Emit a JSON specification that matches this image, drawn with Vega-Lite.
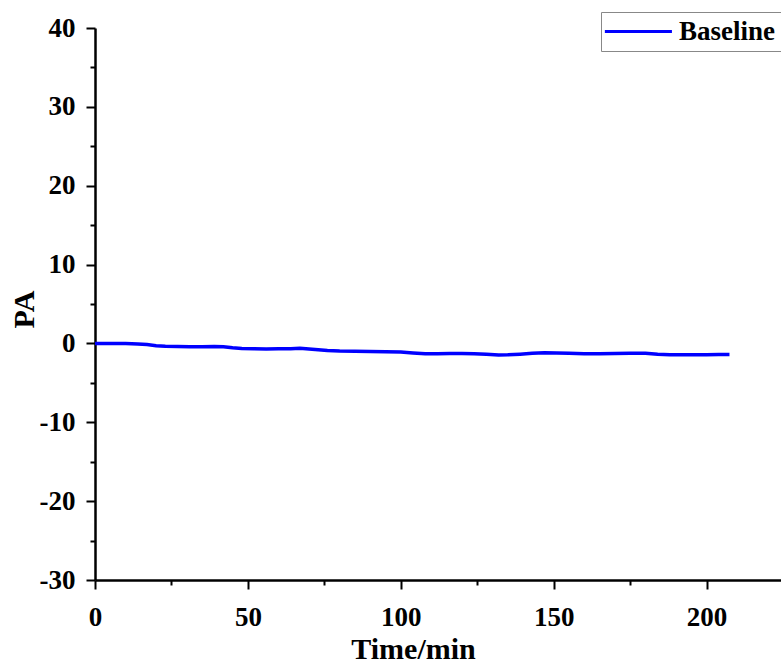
{
  "$schema": "https://vega.github.io/schema/vega-lite/v6.json",
  "autosize": {"type": "none"},
  "padding": {"left": 95, "top": 28, "right": 0, "bottom": 84},
  "width": 688,
  "height": 552,
  "background": "white",
  "data": {"values": [
    {"t": 0, "pa": 0, "series": "Baseline"},
    {"t": 5, "pa": 0.0, "series": "Baseline"},
    {"t": 10, "pa": -0.02, "series": "Baseline"},
    {"t": 14, "pa": -0.06, "series": "Baseline"},
    {"t": 17, "pa": -0.15, "series": "Baseline"},
    {"t": 20, "pa": -0.28, "series": "Baseline"},
    {"t": 23, "pa": -0.36, "series": "Baseline"},
    {"t": 27, "pa": -0.40, "series": "Baseline"},
    {"t": 31, "pa": -0.42, "series": "Baseline"},
    {"t": 35, "pa": -0.41, "series": "Baseline"},
    {"t": 39, "pa": -0.40, "series": "Baseline"},
    {"t": 42, "pa": -0.42, "series": "Baseline"},
    {"t": 45, "pa": -0.56, "series": "Baseline"},
    {"t": 48, "pa": -0.64, "series": "Baseline"},
    {"t": 52, "pa": -0.68, "series": "Baseline"},
    {"t": 56, "pa": -0.70, "series": "Baseline"},
    {"t": 60, "pa": -0.68, "series": "Baseline"},
    {"t": 64, "pa": -0.66, "series": "Baseline"},
    {"t": 67, "pa": -0.62, "series": "Baseline"},
    {"t": 70, "pa": -0.70, "series": "Baseline"},
    {"t": 73, "pa": -0.80, "series": "Baseline"},
    {"t": 76, "pa": -0.90, "series": "Baseline"},
    {"t": 80, "pa": -0.97, "series": "Baseline"},
    {"t": 85, "pa": -1.00, "series": "Baseline"},
    {"t": 90, "pa": -1.02, "series": "Baseline"},
    {"t": 95, "pa": -1.04, "series": "Baseline"},
    {"t": 100, "pa": -1.10, "series": "Baseline"},
    {"t": 104, "pa": -1.20, "series": "Baseline"},
    {"t": 108, "pa": -1.30, "series": "Baseline"},
    {"t": 112, "pa": -1.30, "series": "Baseline"},
    {"t": 116, "pa": -1.28, "series": "Baseline"},
    {"t": 120, "pa": -1.27, "series": "Baseline"},
    {"t": 124, "pa": -1.30, "series": "Baseline"},
    {"t": 128, "pa": -1.38, "series": "Baseline"},
    {"t": 132, "pa": -1.46, "series": "Baseline"},
    {"t": 135, "pa": -1.44, "series": "Baseline"},
    {"t": 139, "pa": -1.36, "series": "Baseline"},
    {"t": 143, "pa": -1.26, "series": "Baseline"},
    {"t": 147, "pa": -1.18, "series": "Baseline"},
    {"t": 151, "pa": -1.20, "series": "Baseline"},
    {"t": 155, "pa": -1.26, "series": "Baseline"},
    {"t": 160, "pa": -1.30, "series": "Baseline"},
    {"t": 165, "pa": -1.30, "series": "Baseline"},
    {"t": 170, "pa": -1.28, "series": "Baseline"},
    {"t": 175, "pa": -1.26, "series": "Baseline"},
    {"t": 180, "pa": -1.24, "series": "Baseline"},
    {"t": 184, "pa": -1.36, "series": "Baseline"},
    {"t": 188, "pa": -1.44, "series": "Baseline"},
    {"t": 192, "pa": -1.44, "series": "Baseline"},
    {"t": 196, "pa": -1.42, "series": "Baseline"},
    {"t": 200, "pa": -1.42, "series": "Baseline"},
    {"t": 204, "pa": -1.40, "series": "Baseline"},
    {"t": 207.5, "pa": -1.39, "series": "Baseline"}
  ]},
  "mark": {"type": "line", "strokeWidth": 3.5, "interpolate": "linear"},
  "encoding": {
    "x": {
      "field": "t", "type": "quantitative",
      "scale": {"domain": [0, 225], "nice": false, "zero": false},
      "axis": {
        "title": "Time/min",
        "values": [0, 25, 50, 75, 100, 125, 150, 175, 200, 225],
        "labelExpr": "datum.value % 50 === 0 ? toString(datum.value) : ''",
        "tickSize": {"condition": {"test": "datum.value % 50 !== 0", "value": 5}, "value": 9},
        "labelPadding": 15,
        "titleX": 318,
        "titleY": 78,
        "titleBaseline": "alphabetic",
        "titleAnchor": "middle",
        "labelFlush": false,
        "labelOverlap": false
      }
    },
    "y": {
      "field": "pa", "type": "quantitative",
      "scale": {"domain": [-30, 40], "nice": false, "zero": false},
      "axis": {
        "title": "PA",
        "values": [-30, -25, -20, -15, -10, -5, 0, 5, 10, 15, 20, 25, 30, 35, 40],
        "labelExpr": "datum.value % 10 === 0 ? toString(datum.value) : ''",
        "tickSize": {"condition": {"test": "datum.value % 10 !== 0", "value": 5}, "value": 9},
        "labelPadding": 11,
        "titleX": -62,
        "titleY": 281,
        "titleAngle": -90,
        "titleBaseline": "alphabetic",
        "titleAnchor": "middle",
        "labelFlush": false,
        "labelOverlap": false
      }
    },
    "color": {
      "field": "series", "type": "nominal",
      "scale": {"domain": ["Baseline"], "range": ["#0000ff"]},
      "legend": {
        "title": null,
        "orient": "none",
        "legendX": 506,
        "legendY": -16,
        "padding": 6,
        "strokeColor": "#888888",
        "fillColor": "white",
        "symbolType": "M-1.4,0H4.6",
        "symbolSize": 500,
        "symbolStrokeWidth": 3,
        "labelFont": "Liberation Serif",
        "labelFontWeight": "bold",
        "labelFontSize": 27,
        "labelColor": "black",
        "labelOffset": 45
      }
    }
  },
  "config": {
    "view": {"stroke": null},
    "axis": {
      "grid": false,
      "labelFont": "Liberation Serif",
      "labelFontWeight": "bold",
      "labelFontSize": 27,
      "labelColor": "black",
      "titleFont": "Liberation Serif",
      "titleFontWeight": "bold",
      "titleFontSize": 30,
      "titleColor": "black",
      "domainColor": "black",
      "domainWidth": 2.5,
      "tickColor": "black",
      "tickWidth": 2
    }
  }
}
